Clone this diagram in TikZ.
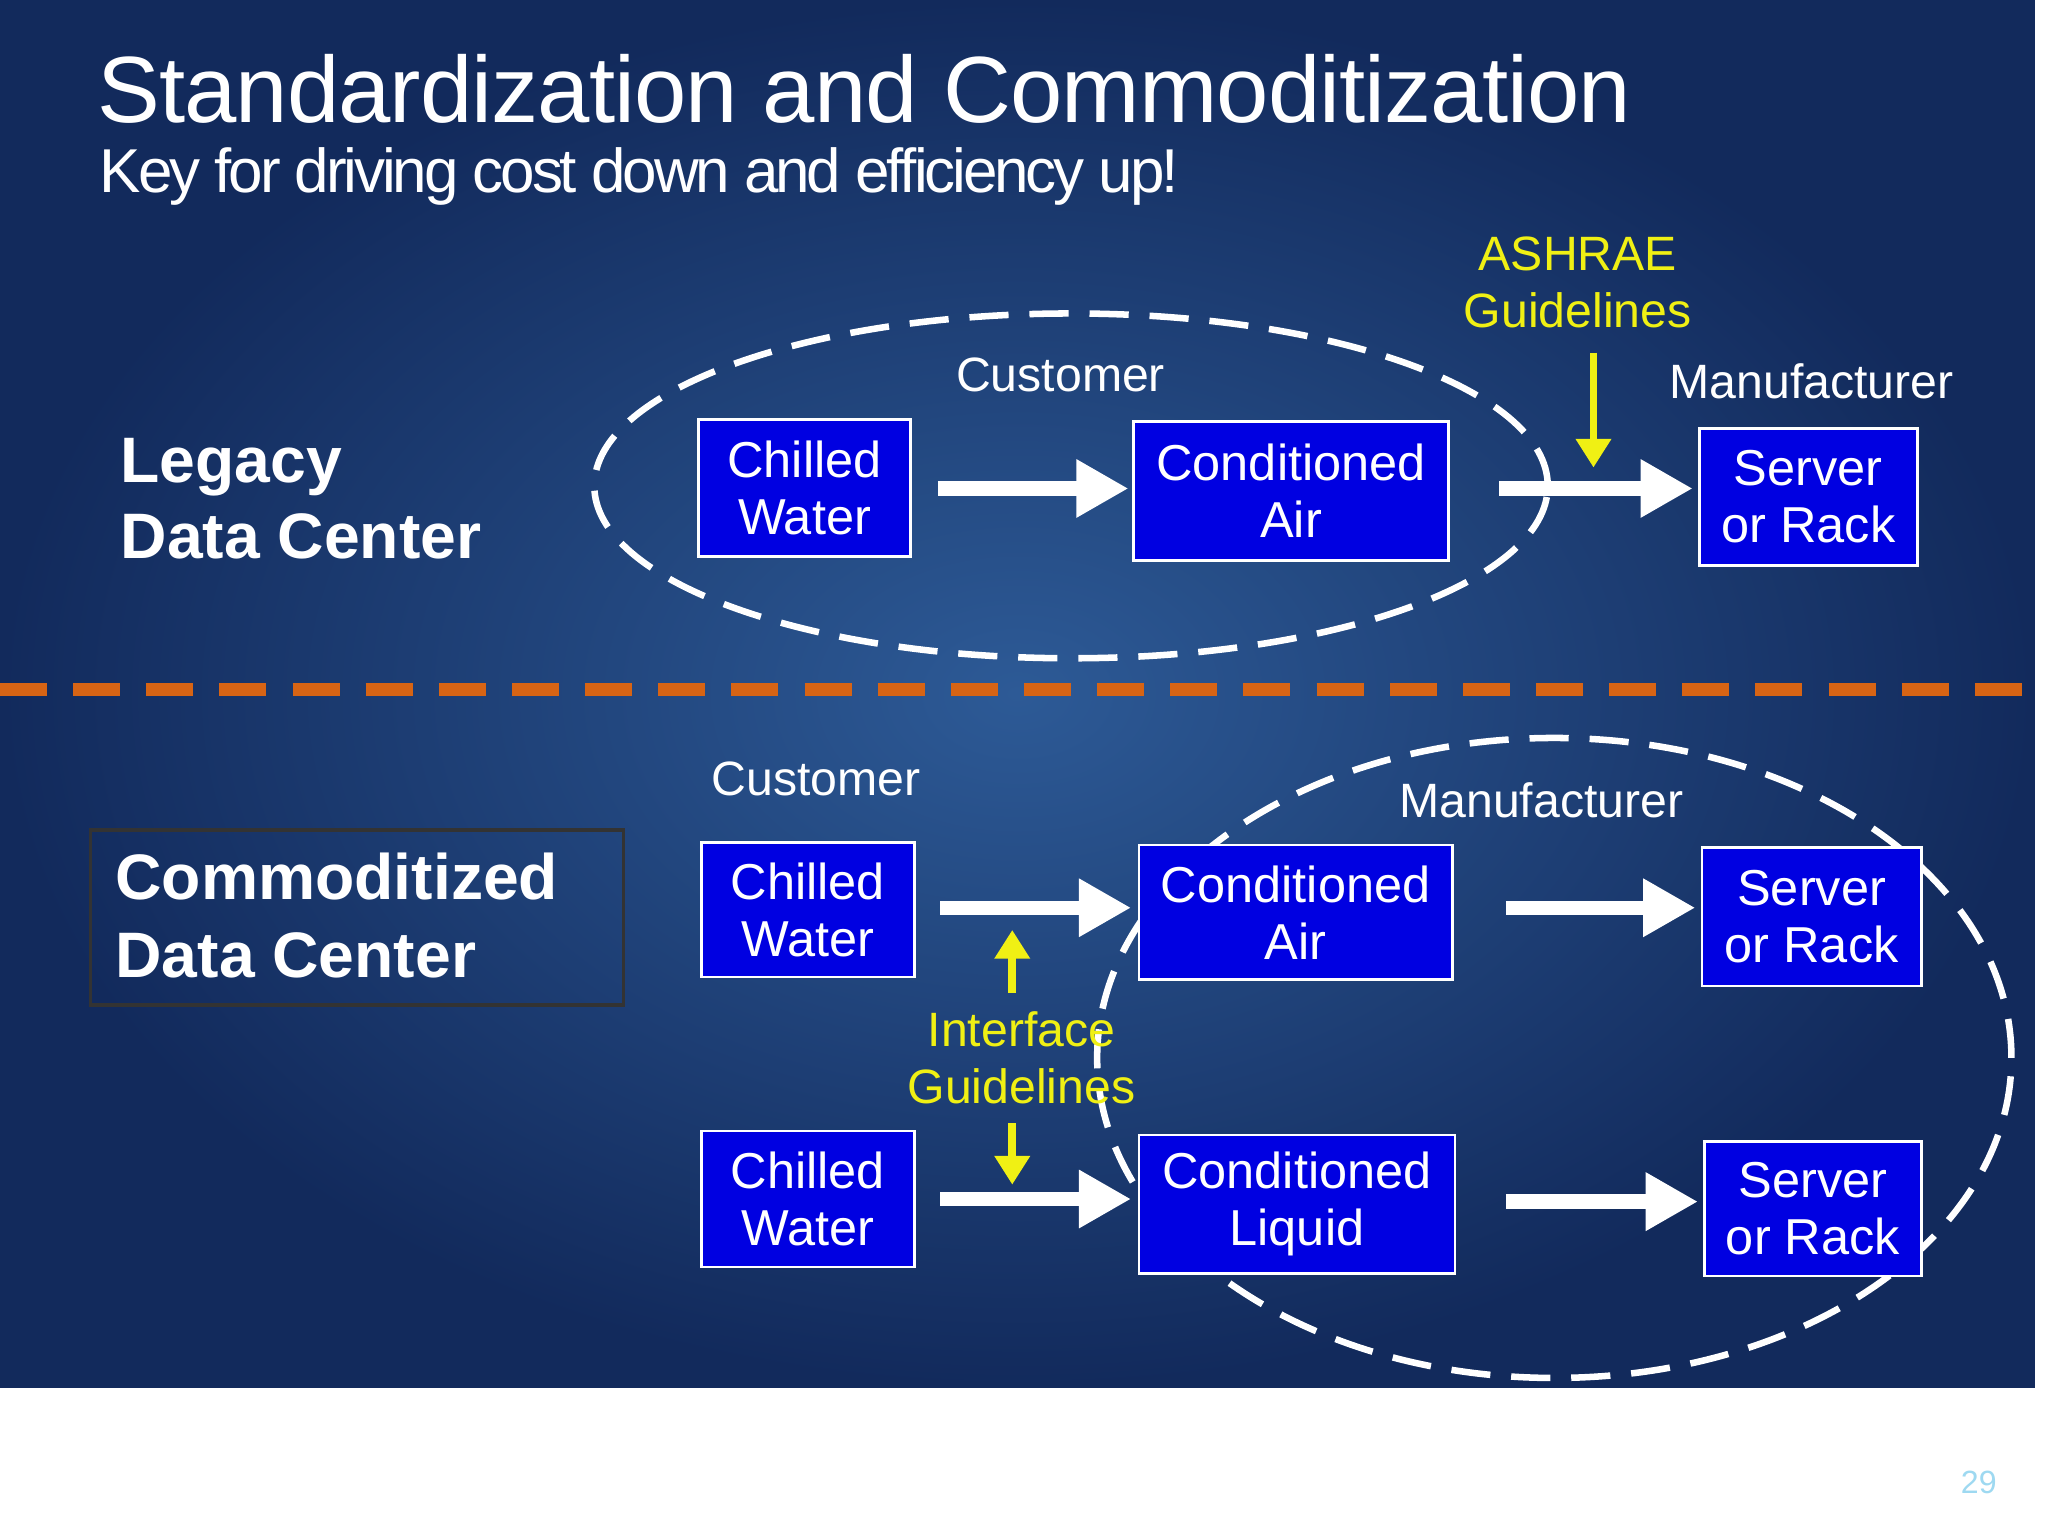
\documentclass[tikz,border=0pt]{standalone}
\usepackage{fontspec}
\setmainfont{Liberation Sans}
\usetikzlibrary{arrows.meta,shapes.geometric}
\definecolor{bgdark}{RGB}{18,42,92}
\definecolor{bglight}{RGB}{45,90,150}
\definecolor{boxblue}{RGB}{0,0,225}
\definecolor{ylw}{RGB}{240,240,20}
\definecolor{orng}{RGB}{215,100,20}
\begin{document}
\begin{tikzpicture}[x=1cm,y=1cm,
  box/.style={draw=white,line width=0.6pt,fill=boxblue,text=white,font=\fontsize{11}{12.4}\selectfont,align=center,inner sep=0pt},
  warrow/.style={white,line width=0.11cm,-{Triangle[width=0.42cm,length=0.4cm]}},
  yarrow/.style={ylw,line width=0.06cm,-{Triangle[width=0.26cm,length=0.22cm]}},
  lbl/.style={text=white,font=\fontsize{10.5}{12.4}\selectfont,align=center},
  ylbl/.style={text=ylw,font=\fontsize{10.5}{12.4}\selectfont,align=center},
  dell/.style={draw=white,line width=0.05cm,dash pattern=on 0.3cm off 0.16cm}]
\useasboundingbox (0,0) rectangle (15.68,-11.76);
\fill[white] (0,0) rectangle (15.68,-11.76);
\shade[inner color=bglight,outer color=bgdark] (0,0) rectangle (15.58,-10.62);
\node[anchor=west,text=white,font=\fontsize{20.5}{24}\selectfont\addfontfeature{LetterSpace=-1}] (title) at (0.62,-0.68) {Standardization and Commoditization};
\node[anchor=west,text=white,font=\fontsize{13.5}{16}\selectfont\addfontfeature{LetterSpace=-5}] (sub) at (0.64,-1.35) {Key for driving cost down and efficiency up!};
% legacy
\node[dell,ellipse,minimum width=7.3cm,minimum height=2.64cm] (e1) at (8.2,-3.72) {};
\node[anchor=west,text=white,font=\bfseries\fontsize{14}{16.5}\selectfont,align=left] (leg) at (0.8,-3.82) {Legacy\\Data Center};
\node[box,minimum width=1.62cm,minimum height=1.05cm] (cw1) at (6.16,-3.735) {Chilled\\Water};
\node[box,minimum width=2.41cm,minimum height=1.06cm] (ca1) at (9.885,-3.76) {Conditioned\\Air};
\node[box,minimum width=1.67cm,minimum height=1.05cm] (sr1) at (13.845,-3.805) {Server\\or Rack};
\draw[warrow] (7.18,-3.74) -- (8.64,-3.74);
\draw[warrow] (11.48,-3.74) -- (12.96,-3.74);
\node[lbl] (cu1) at (8.12,-2.87) {Customer};
\node[lbl] (mf1) at (13.87,-2.92) {Manufacturer};
\node[ylbl] (ash) at (12.08,-2.16) {ASHRAE\\Guidelines};
\coordinate (ashend) at (12.2,-3.58);
\draw[yarrow] (12.2,-2.7) -- (ashend);
% divider
\draw[orng,line width=0.1cm,dash pattern=on 0.36cm off 0.2cm] (0,-5.28) -- (15.58,-5.28);
% commoditized
\node[dell,ellipse,minimum width=7.0cm,minimum height=4.9cm] (e2) at (11.9,-8.1) {};
\node[draw=black!80,line width=0.8pt,minimum width=4.08cm,minimum height=1.34cm,anchor=north west] (cbox) at (0.68,-6.34) {};
\node[anchor=west,text=white,font=\bfseries\fontsize{14}{17}\selectfont,align=left] (com) at (0.76,-7.01) {Commoditized\\Data Center};
\node[lbl] (cu2) at (6.25,-5.96) {Customer};
\node[lbl] (mf2) at (11.8,-6.13) {Manufacturer};
\node[box,minimum width=1.63cm,minimum height=1.03cm] (cw2) at (6.185,-6.965) {Chilled\\Water};
\node[box,minimum width=2.4cm,minimum height=1.03cm] (ca2) at (9.92,-6.985) {Conditioned\\Air};
\node[box,minimum width=1.68cm,minimum height=1.06cm] (sr2) at (13.87,-7.02) {Server\\or Rack};
\node[box,minimum width=1.63cm,minimum height=1.04cm] (cw3) at (6.185,-9.18) {Chilled\\Water};
\node[box,minimum width=2.42cm,minimum height=1.06cm] (cl3) at (9.93,-9.22) {Conditioned\\Liquid};
\node[box,minimum width=1.66cm,minimum height=1.03cm] (sr3) at (13.88,-9.255) {Server\\or Rack};
\draw[warrow] (7.2,-6.95) -- (8.66,-6.95);
\draw[warrow] (11.53,-6.95) -- (12.98,-6.95);
\draw[warrow] (7.2,-9.18) -- (8.66,-9.18);
\draw[warrow] (11.53,-9.2) -- (13.0,-9.2);
\node[ylbl] (ifg) at (7.82,-8.1) {Interface\\Guidelines};
\draw[yarrow] (7.75,-7.6) -- (7.75,-7.12);
\draw[yarrow] (7.75,-8.6) -- (7.75,-9.07);
\node[text=black!10!cyan!40,font=\fontsize{7}{8}\selectfont] (pg) at (15.15,-11.35) {29};
\end{tikzpicture}
\end{document}
